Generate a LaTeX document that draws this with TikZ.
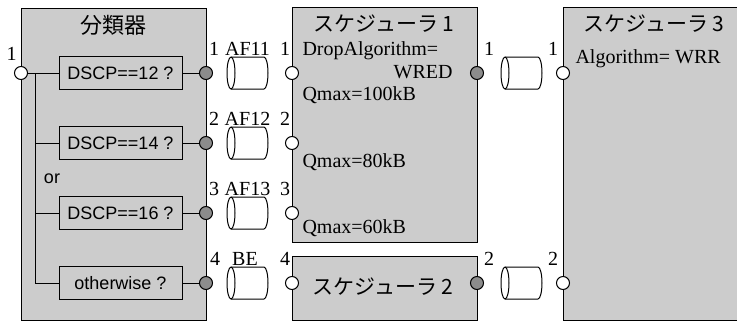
\documentclass[tikz,border=0pt]{standalone}
\usepackage{fontspec}
\setmainfont{Liberation Serif}
\setsansfont{Liberation Sans}
\newfontfamily\jpfont{Noto Sans CJK JP}
\definecolor{boxgray}{HTML}{CCCCCC}
\definecolor{portgray}{HTML}{8C8C8C}

\begin{document}
\begin{tikzpicture}[
    x=1pt, y=-1pt,
    line width=1pt,
    block/.style={draw, fill=boxgray, inner sep=0pt},
    filter/.style={draw, fill=boxgray, minimum width=123pt, minimum height=33pt, inner sep=0pt, font=\sffamily\fontsize{18}{21}\selectfont},
    inport/.style={draw, circle, fill=white, minimum size=13pt, inner sep=0pt},
    outport/.style={draw, circle, fill=portgray, minimum size=13pt, inner sep=0pt},
    queue/.style={minimum width=41pt, minimum height=32pt, inner sep=0pt},
    cyl/.pic={
        \draw[fill=white] (-16.5,-16) -- (16.5,-16) arc[start angle=-90, end angle=90, x radius=4, y radius=16]
            -- (-16.5,16) arc[start angle=90, end angle=270, x radius=4, y radius=16] -- cycle;
        \draw (-16.5,-16) arc[start angle=-90, end angle=90, x radius=4, y radius=16];
    },
    title/.style={font=\jpfont\fontsize{21}{25}\selectfont, inner sep=0pt},
    txt/.style={font=\fontsize{20}{24}\selectfont, inner sep=0pt, anchor=base west},
    num/.style={font=\fontsize{20}{24}\selectfont, inner sep=0pt, anchor=base}
]
\useasboundingbox (0,0) rectangle (737,322);

% Blocks
\node[block, minimum width=185pt, minimum height=312pt] (classifier) at (113.5,164) {};
\node[block, minimum width=185pt, minimum height=235pt] (sched1) at (384.5,124.5) {};
\node[block, minimum width=185pt, minimum height=64pt] (sched2) at (384.5,288) {};
\node[block, minimum width=176pt, minimum height=313pt] (sched3) at (651,163.5) {};

\node[title, font=\jpfont\fontsize{22}{26}\selectfont] (clstitle) at (113,25) {分類器};
\node[title] (s1title) at (384,24) {スケジューラ 1};
\node[title] (s2title) at (383,287) {スケジューラ 2};
\node[title] (s3title) at (654,24) {スケジューラ 3};

% Filters
\node[filter] (f1) at (120.5,73) {DSCP==12 ?};
\node[filter] (f2) at (120.5,143) {DSCP==14 ?};
\node[filter] (f3) at (120.5,213) {DSCP==16 ?};
\node[filter] (f4) at (120.5,283) {otherwise ?};
\node[font=\sffamily\fontsize{18}{21}\selectfont, inner sep=0pt] (ortext) at (52,179) {or};

% Ports
\node[inport] (in0) at (21,73) {};
\node[outport] (c1) at (206,73) {};
\node[outport] (c2) at (206,143) {};
\node[outport] (c3) at (206,213) {};
\node[outport] (c4) at (206,283) {};
\node[inport] (s1in1) at (292,73) {};
\node[inport] (s1in2) at (292,143) {};
\node[inport] (s1in3) at (292,213) {};
\node[outport] (s1out) at (477,73) {};
\node[inport] (s2in) at (292,283) {};
\node[outport] (s2out) at (477,283) {};
\node[inport] (s3in1) at (563,73) {};
\node[inport] (s3in2) at (563,283) {};

% Queues
\foreach \n/\x/\y in {q1/247.5/73, q2/247.5/143, q3/247.5/213, q4/247.5/283, q5/521.5/73, q6/521.5/283} {
    \node[queue] (\n) at (\x,\y) {};
    \pic at (\n) {cyl};
}

% Labels
\node[num] (nin0) at (11.5,60) {1};
\node[num] (nc1) at (214,55) {1};
\node[num] (nc2) at (214,125) {2};
\node[num] (nc3) at (214,195) {3};
\node[num] (nc4) at (215,265) {4};
\node[num] (nq1) at (247.5,55) {AF11};
\node[num] (nq2) at (247.5,125) {AF12};
\node[num] (nq3) at (247.5,195) {AF13};
\node[num] (nq4) at (245,265) {BE};
\node[num] (ns1in1) at (285,55) {1};
\node[num] (ns1in2) at (285,125) {2};
\node[num] (ns1in3) at (285,195) {3};
\node[num] (ns2in) at (285,265) {4};
\node[num] (ns1out) at (489,55) {1};
\node[num] (ns2out) at (489,265) {2};
\node[num] (ns3in1) at (553,55) {1};
\node[num] (ns3in2) at (553,265) {2};

\node[txt] (drop) at (302,55) {DropAlgorithm=};
\node[txt, anchor=base east] (wred) at (453,78) {WRED};
\node[txt] (qmax1) at (302,100) {Qmax=100kB};
\node[txt] (qmax2) at (302,167) {Qmax=80kB};
\node[txt] (qmax3) at (302,233) {Qmax=60kB};
\node[txt] (algo) at (575,63) {Algorithm= WRR};

% Lines
\coordinate (bus) at (35,73);
\draw (in0) -- (f1);
\draw (bus) |- (f2);
\draw (bus) |- (f3);
\draw (bus) |- (f4);
\foreach \i in {1,2,3,4} \draw (f\i) -- (c\i);

\end{tikzpicture}
\end{document}
